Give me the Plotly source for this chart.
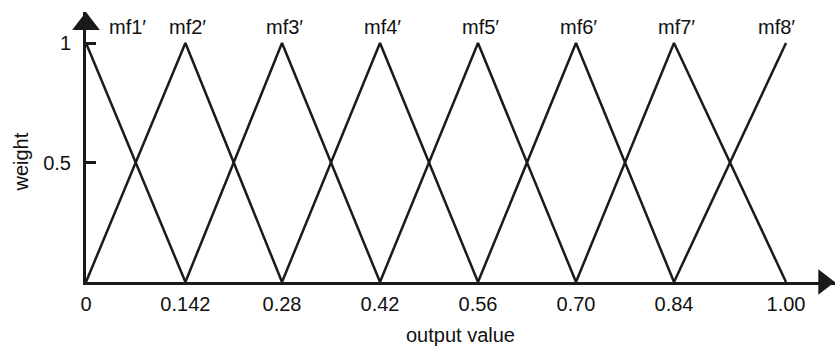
#Triangular membership functions of the output variable
import plotly.graph_objects as go

# Data
CENTRES = [0, 0.142, 0.28, 0.42, 0.56, 0.70, 0.84, 1.00]          # peak of each mf
X_LABELS = ["0", "0.142", "0.28", "0.42", "0.56", "0.70", "0.84", "1.00"]
MF_NAMES = ["mf1\u2032", "mf2\u2032", "mf3\u2032", "mf4\u2032",
            "mf5\u2032", "mf6\u2032", "mf7\u2032", "mf8\u2032"]
Y_TICKS = [0.5, 1]
Y_LABELS = ["0.5", "1"]

X_MAX = 1.07      # x axis runs past 1.00 to the arrow
Y_MAX = 1.13      # y axis runs past 1 to the arrow
FONT = dict(family="Liberation Sans, Arial, sans-serif", size=20, color="#111111")
LINE_COL = "#1a1a1a"

fig = go.Figure()

# one triangle per mf: left foot, peak, right foot (shoulders at the ends)
for i, name in enumerate(MF_NAMES):
    xs, ys = [], []
    if i > 0:
        xs.append(CENTRES[i - 1]); ys.append(0)
    xs.append(CENTRES[i]); ys.append(1)
    if i < len(CENTRES) - 1:
        xs.append(CENTRES[i + 1]); ys.append(0)
    fig.add_trace(go.Scatter(x=xs, y=ys, mode="lines", name=name,
                             line=dict(color=LINE_COL, width=2.5),
                             hoverinfo="skip"))

# arrow heads on the ends of both axes
fig.add_trace(go.Scatter(x=[X_MAX - 0.016], y=[0], mode="markers", cliponaxis=False,
                         marker=dict(symbol="triangle-right", size=22, color=LINE_COL),
                         hoverinfo="skip"))
fig.add_trace(go.Scatter(x=[0], y=[Y_MAX - 0.05], mode="markers", cliponaxis=False,
                         marker=dict(symbol="triangle-up", size=24, color=LINE_COL),
                         hoverinfo="skip"))

# mf labels above the peaks (first and last nudged inward)
shifts = {0: 41, len(MF_NAMES) - 1: -10}
for i, name in enumerate(MF_NAMES):
    fig.add_annotation(x=CENTRES[i], y=1, text=name, showarrow=False,
                       xanchor="center", yanchor="middle", yshift=16,
                       xshift=shifts.get(i, 2), font=FONT)

# y title sits level with the 0.5 tick, not mid-axis
fig.add_annotation(x=0, xref="paper", y=0.5, yref="y", text="weight",
                   textangle=-90, showarrow=False, xanchor="center",
                   yanchor="middle", xshift=-65, font=FONT)

fig.update_layout(
    width=835, height=346,
    margin=dict(l=86, r=0, t=12, b=64),
    paper_bgcolor="white", plot_bgcolor="white",
    showlegend=False,
    font=FONT,
)
fig.update_xaxes(
    range=[0, X_MAX],
    tickmode="array", tickvals=CENTRES, ticktext=X_LABELS,
    ticks="", showgrid=False, zeroline=False,
    showline=True, linecolor=LINE_COL, linewidth=3,
    ticklabelstandoff=2,
    title=dict(text="output value", standoff=14, font=FONT),
)
fig.update_yaxes(
    range=[0, Y_MAX],
    tickmode="array", tickvals=Y_TICKS, ticktext=Y_LABELS,
    ticks="inside", ticklen=10, tickwidth=2.5, tickcolor=LINE_COL,
    showgrid=False, zeroline=False,
    showline=True, linecolor=LINE_COL, linewidth=3,
    ticklabelstandoff=8,
)

# drop the page's default body margin so the figure sits at the window corner
fig.write_html("out.html", config={"displayModeBar": False},
               post_script="document.body.style.margin='0';")
